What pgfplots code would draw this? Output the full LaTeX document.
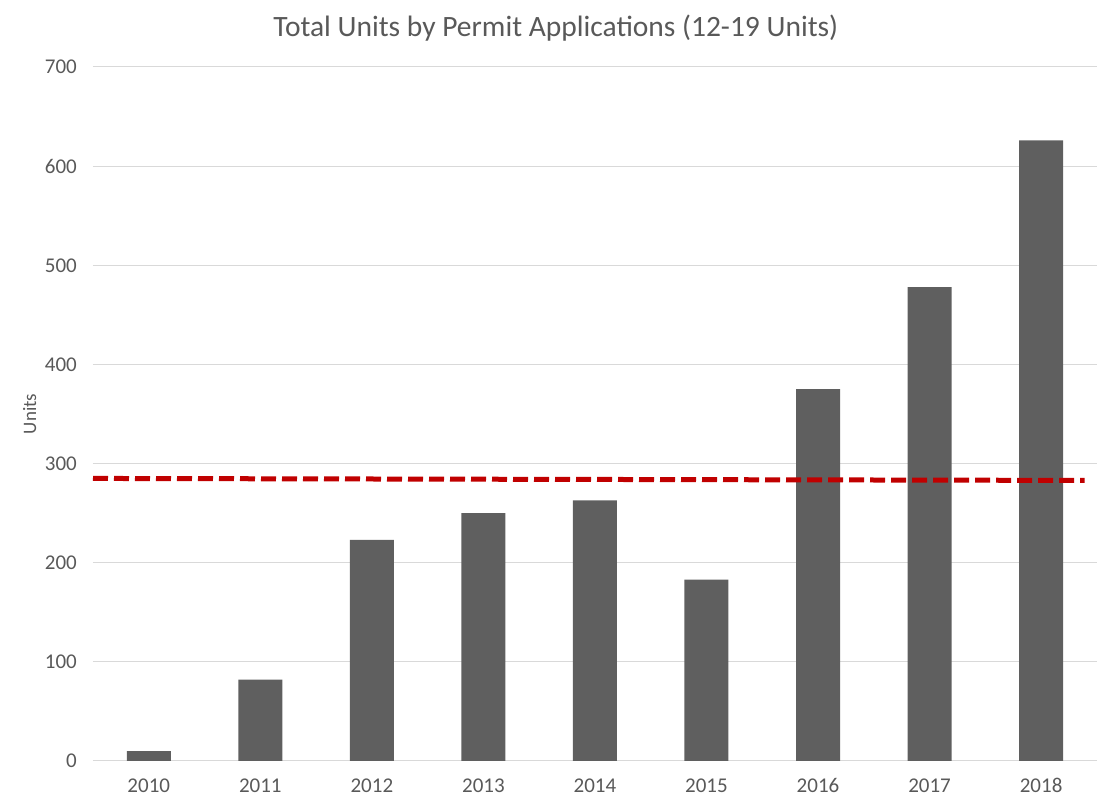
\documentclass[border=0pt]{standalone}
\usepackage{pgfplots}
\pgfplotsset{compat=1.18}
\usepackage{fontspec}
\setmainfont{Carlito}
\definecolor{bargray}{HTML}{5F5F5F}
\definecolor{txtgray}{HTML}{595959}
\definecolor{gridgray}{HTML}{D9D9D9}
\definecolor{avgred}{HTML}{C00000}
\begin{document}
\fontsize{18pt}{21pt}\selectfont
\begin{tikzpicture}
\path (-93pt,-45pt) rectangle (1019pt,761pt);
\begin{axis}[
    scale only axis,
    width=1004pt, height=694pt,
    xmin=-0.5, xmax=8.5,
    ymin=0, ymax=700,
    ytick={0,100,...,700},
    xtick={0,...,8},
    xticklabels={2010,2011,2012,2013,2014,2015,2016,2017,2018},
    /pgf/number format/assume math mode=true,
    tick label style={font=\fontsize{21pt}{24pt}\selectfont, text=txtgray},
    yticklabel style={xshift=-10pt},
    xticklabel style={anchor=base, yshift=-32pt},
    major tick length=0pt,
    axis line style={draw=none},
    ymajorgrids,
    grid style={gridgray, line width=1pt},
    ylabel={Units},
    ylabel style={font=\fontsize{19pt}{22pt}\selectfont, text=txtgray, at={(axis description cs:-0.063,0.5)}, anchor=center},
    title={Total Units by Permit Applications (12-19 Units)},
    title style={font=\fontsize{29.5pt}{34pt}\selectfont, text=txtgray, at={(axis description cs:0.461,1)}, anchor=base, yshift=24pt},
    clip=false,
]
\addplot[ybar, bar width=44pt, fill=bargray, draw=none] coordinates {
    (0,10) (1,82) (2,223) (3,250) (4,263) (5,183) (6,375) (7,478) (8,626)
};
\addplot[avgred, line width=5pt, dash pattern=on 15pt off 6pt] coordinates {
    (-0.5,285) (8.39,283)
};
\end{axis}
\end{tikzpicture}
\end{document}
